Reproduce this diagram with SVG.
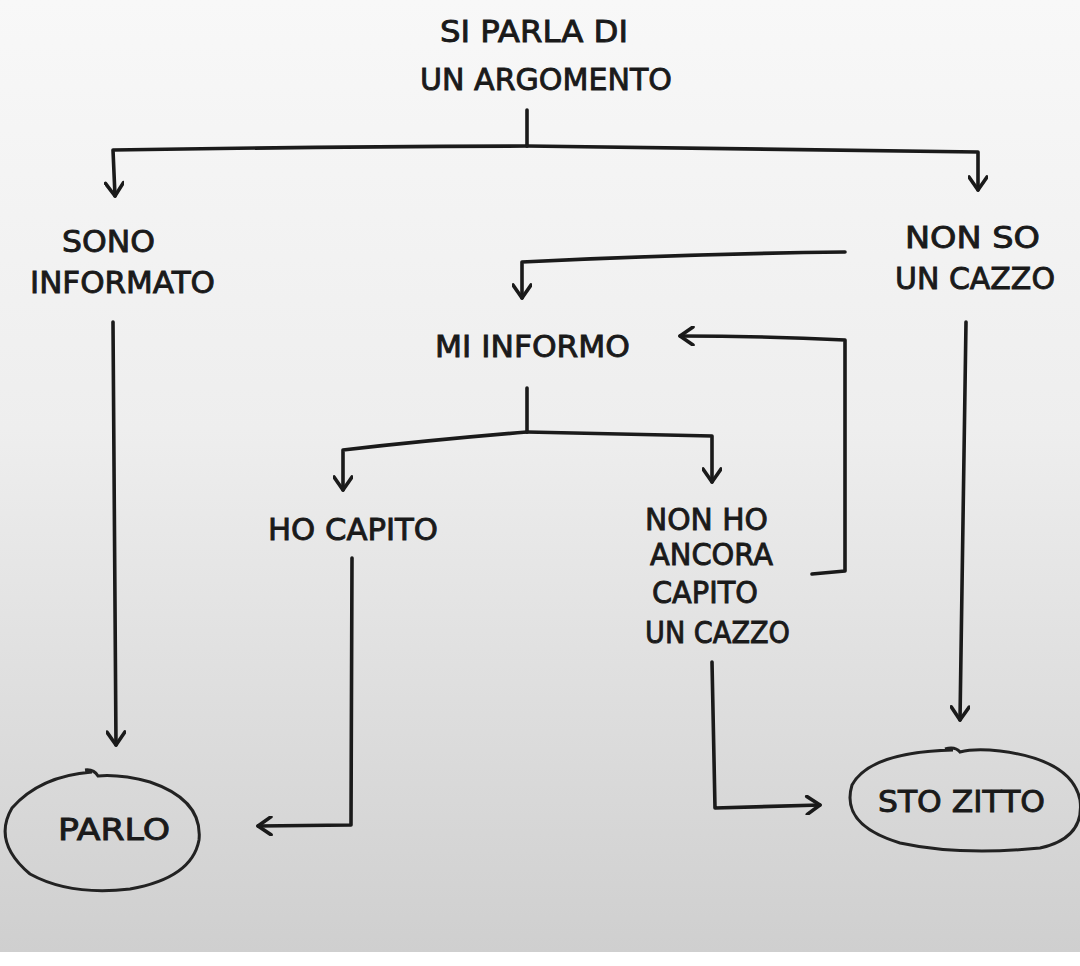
<svg xmlns="http://www.w3.org/2000/svg" width="1080" height="966" viewBox="0 0 1080 966">
<defs>
<linearGradient id="bg" x1="0" y1="0" x2="0" y2="1">
<stop offset="0" stop-color="#f8f8f8"/>
<stop offset="0.45" stop-color="#eeeeee"/>
<stop offset="1" stop-color="#cfcfcf"/>
</linearGradient>
<marker id="ah" viewBox="-16 -10 20 20" refX="0" refY="0" markerWidth="20" markerHeight="20" markerUnits="userSpaceOnUse" orient="auto">
<polyline points="-13,-9 0,0 -13,9" fill="none" stroke="#1a1a1a" stroke-width="3.6" stroke-linecap="round" stroke-linejoin="round"/>
</marker>
<style>
.t{font-family:"DejaVu Sans","Liberation Sans",sans-serif;font-size:30px;fill:#1a1a1a;stroke:#1a1a1a;stroke-width:0.9px;}
.c{fill:none;stroke:#1a1a1a;stroke-width:3.6;stroke-linecap:round;stroke-linejoin:round;}
.o{fill:none;stroke:#222;stroke-width:3;}
</style>
</defs>
<rect x="0" y="0" width="1080" height="952" fill="url(#bg)"/>
<rect x="0" y="952" width="1080" height="14" fill="#ffffff"/>

<g id="connectors">
<path class="c" d="M527,110 L527,146"/>
<path class="c" d="M527,146 Q300,147 113,150 L115,196" marker-end="url(#ah)"/>
<path class="c" d="M527,146 Q760,149 978,152 L978,190" marker-end="url(#ah)"/>
<path class="c" d="M845,252 Q680,254 522,262 L522,298" marker-end="url(#ah)"/>
<path class="c" d="M812,574 L845,571 L845,340 Q760,336 680,336" marker-end="url(#ah)"/>
<path class="c" d="M527,388 L527,432"/>
<path class="c" d="M527,432 Q430,440 343,450 L343,490" marker-end="url(#ah)"/>
<path class="c" d="M527,432 Q620,434 712,436 L712,482" marker-end="url(#ah)"/>
<path class="c" d="M113,322 L116,745" marker-end="url(#ah)"/>
<path class="c" d="M966,322 L960,720" marker-end="url(#ah)"/>
<path class="c" d="M352,558 L351,825 L258,826" marker-end="url(#ah)"/>
<path class="c" d="M712,662 L715,808 L820,805" marker-end="url(#ah)"/>
</g>

<g id="n-argomento">
<text class="t" x="440" y="42" textLength="188" lengthAdjust="spacingAndGlyphs">SI PARLA DI</text>
<text class="t" x="420" y="90" textLength="252" lengthAdjust="spacingAndGlyphs">UN ARGOMENTO</text>
</g>
<g id="n-informato">
<text class="t" x="62" y="252" textLength="93" lengthAdjust="spacingAndGlyphs">SONO</text>
<text class="t" x="30" y="293" textLength="185" lengthAdjust="spacingAndGlyphs">INFORMATO</text>
</g>
<g id="n-nonso">
<text class="t" x="905" y="248" textLength="135" lengthAdjust="spacingAndGlyphs">NON SO</text>
<text class="t" x="895" y="289" textLength="160" lengthAdjust="spacingAndGlyphs">UN CAZZO</text>
</g>
<g id="n-miinformo">
<text class="t" x="435" y="357" textLength="195" lengthAdjust="spacingAndGlyphs">MI INFORMO</text>
</g>
<g id="n-hocapito">
<text class="t" x="268" y="540" textLength="170" lengthAdjust="spacingAndGlyphs">HO CAPITO</text>
</g>
<g id="n-nonhocapito">
<text class="t" x="645" y="530" textLength="123" lengthAdjust="spacingAndGlyphs">NON HO</text>
<text class="t" x="650" y="565" textLength="123" lengthAdjust="spacingAndGlyphs">ANCORA</text>
<text class="t" x="652" y="603" textLength="106" lengthAdjust="spacingAndGlyphs">CAPITO</text>
<text class="t" x="645" y="643" textLength="145" lengthAdjust="spacingAndGlyphs">UN CAZZO</text>
</g>
<g id="n-parlo">
<path class="o" d="M92,772 Q40,776 12,808 Q-8,842 30,874 Q70,896 130,889 Q192,878 199,840 Q203,800 150,782 Q120,774 98,776 Q94,769 85,770"/>
<text class="t" x="58" y="840" textLength="112" lengthAdjust="spacingAndGlyphs">PARLO</text>
</g>
<g id="n-stozitto">
<path class="o" d="M953,750 Q870,752 852,785 Q840,825 900,843 Q960,856 1040,848 Q1085,838 1080,800 Q1072,760 1000,751 Q975,748 960,752 Q955,746 945,749"/>
<text class="t" x="878" y="812" textLength="167" lengthAdjust="spacingAndGlyphs">STO ZITTO</text>
</g>
</svg>
